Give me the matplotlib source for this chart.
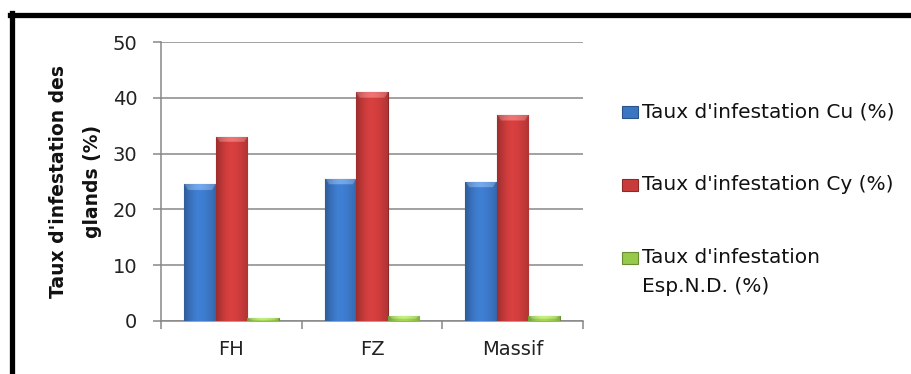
import numpy as np
import matplotlib
matplotlib.use("Agg")
import matplotlib.pyplot as plt
from matplotlib.patches import Rectangle
from matplotlib.colors import to_rgb

plt.rcParams['font.family'] = ['DejaVu Sans']

sites = ["FH", "FZ", "Massif"]
cu = [24.5, 25.5, 25.0]
cy = [33.0, 41.0, 37.0]
esp = [0.5, 0.9, 0.9]
series_labels = ["Taux d'infestation Cu (%)",
                 "Taux d'infestation Cy (%)",
                 "Taux d'infestation\nEsp.N.D. (%)"]
series_colors = ["#3b76c4", "#c93b3b", "#97c94a"]
ylabel = "Taux d'infestation des\nglands (%)"

W, H = 911, 374
fig = plt.figure(figsize=(W / 100, H / 100), dpi=100)
ax = fig.add_axes([161 / W, 1 - 321 / H, (583 - 161) / W, (321 - 42) / H])

grid_c = "#878787"
x = np.arange(len(sites))
bw = 0.225


def shade(ax, rect, color, cap):
    # cylinder-like shading across the bar, with a lighter bevel on top
    base = np.array(to_rgb(color))
    nx, ny = 60, 160
    u = np.linspace(0, 1, nx)
    prof = 0.78 + 0.30 * np.sin(np.clip(u / 0.5, 0, 1) * np.pi / 2) \
        - 0.20 * np.clip((u - 0.5) / 0.5, 0, 1) ** 1.5
    img = np.clip(base[None, None, :] * prof[None, :, None] * np.ones((ny, 1, 1)), 0, 1)
    h = rect.get_height()
    yy = np.linspace(h, 0, ny)
    light = np.clip(base + (1 - base) * 0.22, 0, 1)
    for j in range(ny):
        d = h - yy[j]
        if d < cap:
            # trapezoid bevel: narrower as it goes down
            inset = 0.12 * d / cap
            m = (u > inset) & (u < 1 - inset)
            img[j, m] = np.clip(light[None, :] * (prof[m, None] + 0.05), 0, 1)
    x0 = rect.get_x()
    im = ax.imshow(img, extent=(x0, x0 + rect.get_width(), 0, h), aspect="auto",
                   zorder=rect.get_zorder(), interpolation="bilinear")
    im.set_clip_path(rect)


for i, (vals, col) in enumerate(zip([cu, cy, esp], series_colors)):
    bars = ax.bar(x + (i - 1) * bw, vals, bw, color=col, zorder=3,
                  edgecolor=tuple(np.array(to_rgb(col)) * 0.7), linewidth=0.8)
    for b in bars:
        shade(ax, b, col, min(1.0, b.get_height() * 0.6))

ax.set_xlim(-0.5, len(sites) - 0.5)
ax.set_ylim(0, 50)
ax.set_yticks(range(0, 51, 10))
ax.set_xticks(x)
ax.set_xticklabels(sites)
ax.set_xticks(np.arange(-0.5, len(sites), 1), minor=True)
ax.tick_params(axis="x", which="major", length=0, pad=14, labelsize=14, labelcolor="#222222")
ax.tick_params(axis="x", which="minor", length=6, width=1.1, color=grid_c, direction="out")
ax.tick_params(axis="y", length=6, width=1.1, color=grid_c, labelsize=14, labelcolor="#222222", pad=11)
ax.yaxis.grid(True, color=grid_c, linewidth=1.1, zorder=0)
ax.set_axisbelow(True)
for s in ["top", "right"]:
    ax.spines[s].set_visible(False)
for s in ["left", "bottom"]:
    ax.spines[s].set_color(grid_c)
    ax.spines[s].set_linewidth(1.1)
ax.set_ylabel(ylabel, fontsize=13.5, fontweight="bold", labelpad=8, color="#111111",
              linespacing=1.95)
ax.yaxis.label.set_multialignment("center")

# legend drawn on the figure
rows_y = [112, 185, 258]
for lab, col, ry in zip(series_labels, series_colors, rows_y):
    fig.patches.append(Rectangle((622 / W, 1 - (ry + 6) / H), 16 / W, 12 / H,
                                 transform=fig.transFigure, facecolor=col,
                                 edgecolor=tuple(np.array(to_rgb(col)) * 0.7), linewidth=0.8))
    t = fig.text(642 / W, 1 - (ry - 10) / H, lab, fontsize=14.5, va="top", ha="left",
                 color="#111111")
    t.set_linespacing(1.65)

# frame lines at top and left
fig.add_artist(plt.Line2D([10 / W, 1], [1 - 14.5 / H] * 2, transform=fig.transFigure,
                          color="black", linewidth=3.8))
fig.add_artist(plt.Line2D([12 / W] * 2, [0, 1 - 12.5 / H], transform=fig.transFigure,
                          color="black", linewidth=3.8))

fig.savefig("out.png", dpi=100)
